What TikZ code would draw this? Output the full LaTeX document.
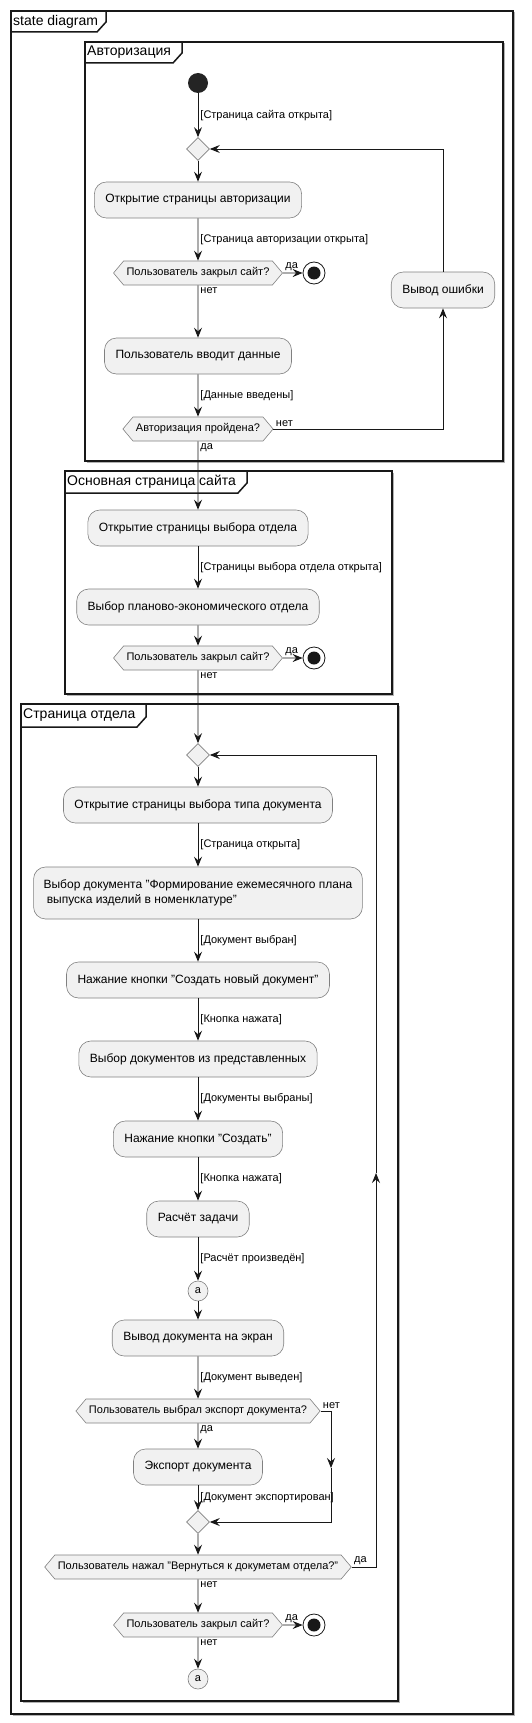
\documentclass[tikz,border=0pt]{standalone}
\usepackage{fontspec}
\setmainfont{Liberation Sans}
\usetikzlibrary{arrows.meta,shapes.geometric,shapes.symbols}
\definecolor{umlfill}{HTML}{F1F1F1}
\definecolor{umlline}{HTML}{181818}

\begin{document}
\begin{tikzpicture}[x=1pt, y=-1pt, >={Stealth[length=10pt, width=8pt, inset=3.5pt]},
                    node distance=50pt,
                    action node/.style={rectangle, rounded corners=12pt, draw=umlline!55, line width=0.6pt,
                      fill=umlfill, minimum height=36pt, inner xsep=11pt, font=\fontsize{12}{15}\selectfont},
                    decision node/.style={signal, signal to=east and west, signal pointer angle=100,
                      draw=umlline!55, line width=0.6pt, fill=umlfill, inner xsep=3pt, inner ysep=6.7pt,
                      text height=8pt, text depth=2.6pt, font=\fontsize{11}{13}\selectfont},
                    merge node/.style={diamond, draw=umlline!55, line width=0.6pt, fill=umlfill,
                      minimum size=23pt, inner sep=0pt},
                    start node/.style={circle, fill=umlline!95, minimum size=20pt, inner sep=0pt},
                    stop node/.style={circle, draw=umlline, line width=0.8pt, fill=white, minimum size=22pt,
                      inner sep=0pt, path picture={\fill[umlline] (path picture bounding box.center) circle (6.5pt);}},
                    link node/.style={circle, draw=umlline!55, line width=0.6pt, fill=umlfill,
                      minimum size=20pt, inner sep=0pt, font=\fontsize{11}{13}\selectfont},
                    guard/.style={font=\fontsize{11}{13}\selectfont, inner sep=2pt},
                    flow/.style={->, draw=umlline, line width=0.9pt},
                    frame/.style={draw=umlline, line width=1.5pt},
                    frame shadow/.style={draw=black!30, line width=1.5pt},
                    frame title/.style={anchor=west, inner sep=0pt, font=\fontsize{14}{16}\selectfont},
                    every edge/.style={draw=umlline, line width=0.9pt}]

  \useasboundingbox (0,0) rectangle (531,1723);

  % frames
  \draw[frame shadow] (514.5,12.5) -- (514.5,1715.5) -- (12.5,1715.5);
  \draw[frame] (11,11) rectangle (513,1714);
  \draw[frame] (11,32) -- (97,32) -- (106,22) -- (106,11);
  \node[frame title] (f1) at (13,21.5) {state diagram};

  \draw[frame shadow] (504.5,43.5) -- (504.5,462.5) -- (86.5,462.5);
  \draw[frame] (85,42) rectangle (503,461);
  \draw[frame] (85,63) -- (173,63) -- (182,53) -- (182,42);
  \node[frame title] (f2) at (87,52.5) {Авторизация};

  \draw[frame shadow] (393.5,472.5) -- (393.5,695.5) -- (66.5,695.5);
  \draw[frame] (65,471) rectangle (392,694);
  \draw[frame] (65,493) -- (238,493) -- (247,483) -- (247,471);
  \node[frame title] (f3) at (67,482) {Основная страница сайта};

  \draw[frame shadow] (399.5,705.5) -- (399.5,1702.5) -- (22.5,1702.5);
  \draw[frame] (21,704) rectangle (398,1701);
  \draw[frame] (21,727) -- (137,727) -- (146,717) -- (146,704);
  \node[frame title] (f4) at (23,715.5) {Страница отдела};

  % authorisation
  \node[start node] (1) at (198,83) {};
  \node[merge node] (2) [node distance=66pt, below of=1] {};
  \node[action node] (3) [node distance=51pt, below of=2] {Открытие страницы авторизации};
  \node[decision node] (4) [node distance=73pt, below of=3] {Пользователь закрыл сайт?};
  \node[stop node] (5) [node distance=116pt, right of=4] {};
  \node[action node] (6) [node distance=83pt, below of=4] {Пользователь вводит данные};
  \node[decision node] (7) [node distance=73pt, below of=6] {Авторизация пройдена?};
  \node[action node] (8) at (443,290) {Вывод ошибки};

  % main page
  \node[action node] (9) [node distance=99pt, below of=7] {Открытие страницы выбора отдела};
  \node[action node] (10) [node distance=79pt, below of=9] {Выбор планово-экономического отдела};
  \node[decision node] (11) [node distance=51pt, below of=10] {Пользователь закрыл сайт?};
  \node[stop node] (12) [node distance=116pt, right of=11] {};

  % department page
  \node[merge node] (13) [node distance=97pt, below of=11] {};
  \node[action node] (14) [node distance=50pt, below of=13] {Открытие страницы выбора типа документа};
  \node[action node, align=left, minimum height=52pt, inner xsep=10pt] (15) [node distance=88pt, below of=14]
    {Выбор документа "Формирование ежемесячного плана\\\hspace*{3.3pt}выпуска изделий в номенклатуре"};
  \node[action node] (16) [node distance=87pt, below of=15] {Нажание кнопки "Создать новый документ"};
  \node[action node] (17) [node distance=79pt, below of=16] {Выбор документов из представленных};
  \node[action node] (18) [node distance=80pt, below of=17] {Нажание кнопки "Создать"};
  \node[action node] (19) [node distance=80pt, below of=18] {Расчёт задачи};
  \node[link node] (20) [node distance=72pt, below of=19] {a};
  \node[action node] (21) [node distance=47pt, below of=20] {Вывод документа на экран};
  \node[decision node] (22) [node distance=73pt, below of=21] {Пользователь выбрал экспорт документа?};
  \node[action node] (23) [node distance=56pt, below of=22] {Экспорт документа};
  \node[merge node] (24) [node distance=55pt, below of=23] {};
  \node[decision node] (25) [node distance=45pt, below of=24] {Пользователь нажал "Вернуться к докуметам отдела?"};
  \node[decision node] (26) [node distance=58pt, below of=25] {Пользователь закрыл сайт?};
  \node[stop node] (27) [node distance=116pt, right of=26] {};
  \node[link node] (28) [node distance=54pt, below of=26] {a};
  \coordinate (29) at (331,1468);
  \coordinate (30) at (376,1173);

  \path[->][every node/.style={guard}]
    (1) edge node [right] {[Страница сайта открыта]} (2)
    (2) edge (3)
    (3) edge node [right] {[Страница авторизации открыта]} (4)
    (4) edge node [pos=0, above right] {да} (5)
    (4) edge node [pos=0, below right] {нет} (6)
    (6) edge node [right] {[Данные введены]} (7)
    (7) edge node [pos=0, below right] {да} (9)
    (9) edge node [right] {[Страницы выбора отдела открыта]} (10)
    (10) edge (11)
    (11) edge node [pos=0, above right] {да} (12)
    (11) edge node [pos=0, below right] {нет} (13)
    (13) edge (14)
    (14) edge node [right] {[Страница открыта]} (15)
    (15) edge node [right] {[Документ выбран]} (16)
    (16) edge node [right] {[Кнопка нажата]} (17)
    (17) edge node [right] {[Документы выбраны]} (18)
    (18) edge node [right] {[Кнопка нажата]} (19)
    (19) edge node [right] {[Расчёт произведён]} (20)
    (20) edge (21)
    (21) edge node [right] {[Документ выведен]} (22)
    (22) edge node [pos=0, below right] {да} (23)
    (23) edge node [right] {[Документ экспортирован]} (24)
    (24) edge (25)
    (25) edge node [pos=0, below right] {нет} (26)
    (26) edge node [pos=0, above right] {да} (27)
    (26) edge node [pos=0, below right] {нет} (28);

  \draw[flow] (7) -| node [guard, pos=0, above right] {нет} (8);
  \draw[flow] (8) |- (2);
  \draw[flow] (22) -| node [guard, pos=0, above right] {нет} (29);
  \draw[flow] (29) |- (24);
  \draw[flow] (25) -| node [guard, pos=0, above right] {да} (30);
  \draw[flow] (30) |- (13);
\end{tikzpicture}
\end{document}
